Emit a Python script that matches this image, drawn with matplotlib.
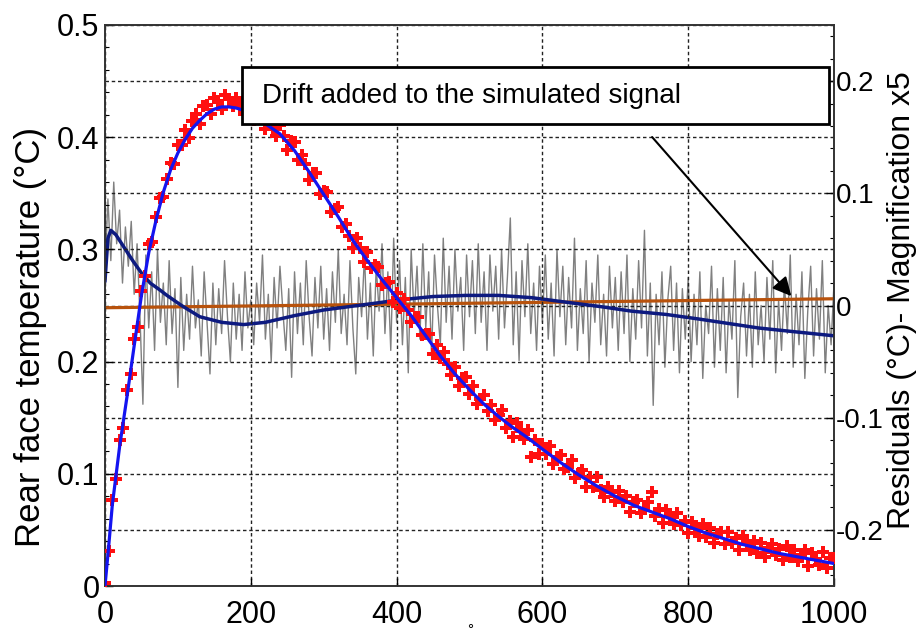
import matplotlib
matplotlib.use("Agg")
import matplotlib.pyplot as plt
from matplotlib.patches import Rectangle
from matplotlib.ticker import MultipleLocator

plt.rcParams['font.family'] = ['Liberation Sans', 'DejaVu Sans']

# fitted rear face temperature (left axis)
fit_x = [0, 5, 10, 20, 30, 40, 50, 60, 70, 80, 90, 100, 110, 120, 130, 140, 150, 160, 170, 180,
         190, 200, 220, 240, 260, 280, 300, 320, 340, 360, 380, 400, 420, 440, 460, 480, 500,
         520, 540, 560, 580, 600, 625, 650, 675, 700, 725, 750, 775, 800, 825, 850, 875, 900,
         925, 950, 975, 1000]
fit_t = [0.000, 0.035, 0.072, 0.124, 0.168, 0.214, 0.259, 0.297, 0.326, 0.351, 0.371, 0.386,
         0.398, 0.408, 0.415, 0.421, 0.425, 0.427, 0.427, 0.426, 0.424, 0.421, 0.412, 0.403,
         0.388, 0.369, 0.349, 0.329, 0.308, 0.290, 0.273, 0.257, 0.241, 0.223, 0.205, 0.189,
         0.175, 0.162, 0.151, 0.141, 0.132, 0.122, 0.110, 0.099, 0.089, 0.080, 0.072, 0.066,
         0.060, 0.053, 0.047, 0.042, 0.037, 0.033, 0.029, 0.026, 0.023, 0.020]

# measured (simulated + noise) signal, one value every 5 units
meas_x = list(range(0, 1001, 5))
meas_t = [0.003, 0.031, 0.077, 0.095, 0.130, 0.141, 0.175, 0.189, 0.220, 0.231,
          0.263, 0.276, 0.305, 0.307, 0.329, 0.346, 0.347, 0.363, 0.377, 0.376,
          0.393, 0.393, 0.406, 0.399, 0.414, 0.421, 0.412, 0.428, 0.429, 0.421,
          0.435, 0.432, 0.425, 0.438, 0.434, 0.428, 0.435, 0.428, 0.421, 0.431,
          0.426, 0.415, 0.424, 0.417, 0.407, 0.416, 0.408, 0.401, 0.411, 0.401,
          0.389, 0.397, 0.396, 0.380, 0.384, 0.376, 0.362, 0.368, 0.368, 0.349,
          0.352, 0.351, 0.333, 0.336, 0.338, 0.320, 0.323, 0.312, 0.301, 0.310,
          0.301, 0.289, 0.298, 0.283, 0.286, 0.284, 0.268, 0.270, 0.271, 0.253,
          0.261, 0.248, 0.256, 0.246, 0.235, 0.240, 0.240, 0.224, 0.225, 0.225,
          0.207, 0.215, 0.203, 0.209, 0.198, 0.188, 0.195, 0.178, 0.185, 0.186,
          0.171, 0.178, 0.162, 0.167, 0.170, 0.156, 0.161, 0.148, 0.152, 0.157,
          0.141, 0.147, 0.133, 0.145, 0.138, 0.131, 0.139, 0.115, 0.130, 0.118,
          0.127, 0.118, 0.125, 0.109, 0.115, 0.117, 0.104, 0.106, 0.112, 0.096,
          0.101, 0.103, 0.088, 0.097, 0.088, 0.097, 0.086, 0.079, 0.088, 0.084,
          0.076, 0.085, 0.075, 0.080, 0.066, 0.075, 0.077, 0.065, 0.069, 0.075,
          0.084, 0.062, 0.069, 0.056, 0.068, 0.062, 0.055, 0.065, 0.054, 0.058,
          0.047, 0.057, 0.052, 0.045, 0.055, 0.044, 0.052, 0.038, 0.046, 0.048,
          0.037, 0.048, 0.038, 0.043, 0.032, 0.045, 0.037, 0.032, 0.040, 0.029,
          0.038, 0.026, 0.034, 0.037, 0.028, 0.033, 0.023, 0.036, 0.026, 0.032,
          0.022, 0.028, 0.032, 0.018, 0.029, 0.024, 0.019, 0.030, 0.016, 0.025,
          0.025]

# residuals x5 (right axis), one value every 4 units
res_x = list(range(0, 1001, 4))
res_r = [0.030, 0.095, 0.040, 0.110, 0.055, 0.085, 0.020, 0.070, 0.035, 0.075, 0.010, 0.055, -0.010,
         -0.088, 0.045, -0.020, 0.030, -0.040, 0.050, -0.015, 0.020, -0.035, 0.040, -0.025, 0.015, -0.073,
         0.025, -0.040, 0.010, -0.030, 0.035, -0.020, 0.005, -0.045, 0.030, -0.015, -0.061, 0.020, -0.035,
         0.015, -0.025, 0.040, -0.010, -0.050, 0.020, -0.030, 0.010, -0.040, 0.030, -0.020, 0.005,
         -0.035, 0.020, -0.015, 0.045, -0.030, 0.010, -0.050, 0.025, -0.020, 0.035, -0.005, -0.040, 0.015,
         -0.064, 0.030, -0.025, 0.020, -0.035, 0.040, -0.010, -0.045, 0.025, -0.020, 0.035, -0.030,
         0.015, -0.040, 0.030, -0.015, 0.050, -0.025, 0.010, -0.035, 0.040, -0.020, -0.061, 0.025, -0.010,
         0.045, -0.030, 0.020, -0.045, 0.035, -0.005, 0.055, -0.025, 0.030, -0.040, 0.060, -0.015,
         0.040, -0.035, 0.025, -0.060, 0.050, -0.010, 0.035, -0.030, 0.055, -0.020, 0.030, -0.045, 0.045,
         0.000, -0.035, 0.060, -0.015, 0.035, -0.030, 0.050, -0.005, 0.025, -0.040, 0.045, -0.010,
         0.040, -0.025, 0.055, -0.015, 0.030, -0.040, 0.045, -0.005, 0.035, -0.030, 0.050, -0.020, 0.025,
         0.078, -0.035, 0.030, -0.049, 0.040, -0.010, 0.055, -0.025, 0.020, -0.040, 0.035, -0.015,
         0.045, -0.030, 0.020, -0.045, 0.050, -0.010, 0.035, -0.035, 0.025, -0.020, 0.060, -0.040, 0.015,
         -0.025, 0.040, -0.050, 0.020, -0.015, 0.045, -0.035, 0.010, -0.045, 0.035, -0.020, 0.025,
         -0.040, 0.030, -0.025, 0.045, -0.050, 0.015, -0.030, 0.040, -0.020, 0.067, -0.045, 0.020, -0.089,
         0.010, -0.035, 0.030, -0.055, 0.005, 0.035, -0.040, 0.020, -0.060, 0.015, -0.030, 0.025,
         -0.050, 0.010, -0.035, 0.030, -0.065, 0.000, -0.025, 0.035, -0.055, 0.015, -0.040, 0.025, -0.060,
         0.005, -0.030, 0.040, -0.082, -0.010, 0.020, -0.045, 0.010, -0.055, 0.030, -0.035, 0.000,
         -0.050, 0.025, -0.030, 0.040, -0.060, 0.005, -0.040, 0.020, -0.025, 0.045, -0.055, 0.010, -0.035,
         0.030, -0.065, -0.005, 0.035, -0.045, 0.015, -0.030, 0.040, -0.060, 0.000, -0.035, 0.020]

# smoothed residual (right axis)
smooth_x = [0, 4, 8, 15, 25, 38, 50, 62, 75, 85, 105, 130, 160, 190, 220, 260, 300, 335, 370,
            404, 450, 495, 540, 585, 632, 680, 722, 770, 814, 855, 896, 940, 1000]
smooth_r = [0.022, 0.060, 0.067, 0.063, 0.053, 0.040, 0.029, 0.020, 0.014, 0.009, 0.000, -0.010,
            -0.015, -0.017, -0.015, -0.009, -0.004, -0.001, 0.002, 0.005, 0.008, 0.009, 0.009,
            0.007, 0.003, -0.001, -0.005, -0.008, -0.012, -0.016, -0.020, -0.023, -0.027]

# drift added to the simulated signal (right axis)
drift_x = [0, 250, 500, 750, 1000]
drift_r = [-0.002, 0.000, 0.002, 0.004, 0.006]

left_ticks = [0, 0.1, 0.2, 0.3, 0.4, 0.5]
left_labels = ['0', '0.1', '0.2', '0.3', '0.4', '0.5']
right_ticks = [-0.2, -0.1, 0, 0.1, 0.2]
right_labels = ['-0.2', '-0.1', '0', '0.1', '0.2']
x_ticks = [0, 200, 400, 600, 800, 1000]

fig = plt.figure(figsize=(9.2, 6.39), dpi=100)
ax = fig.add_axes([105 / 920, 53 / 639, 729 / 920, 561 / 639])
ax2 = ax.twinx()

grid_kw = dict(color='#222222', linestyle=(0, (2.5, 2)), linewidth=1.0)

ax2.plot(res_x, res_r, color='#808080', lw=1.0, zorder=1)
ax2.plot(drift_x, drift_r, color='#b8520c', lw=2.3, zorder=3)
ax2.plot(smooth_x, smooth_r, color='#0d1a80', lw=2.5, zorder=4)
ax2.set_ylim(-0.25, 0.25)
ax2.set_yticks(right_ticks)
ax2.set_yticklabels(right_labels)
ax2.yaxis.set_minor_locator(MultipleLocator(0.02))
ax2.grid(True, axis='y', **grid_kw)

ax.set_zorder(ax2.get_zorder() + 1)
ax.patch.set_visible(False)
ax.plot(meas_x, meas_t, linestyle='none', marker='P', ms=8, mew=0, color='#ff1010', zorder=3)
ax.plot(fit_x, fit_t, color='#1414f0', lw=2.3, zorder=4)
ax.set_xlim(0, 1000)
ax.set_ylim(0, 0.5)
ax.set_xticks(x_ticks)
ax.set_yticks(left_ticks)
ax.set_yticklabels(left_labels)
ax.yaxis.set_minor_locator(MultipleLocator(0.02))
ax.grid(True, **grid_kw)

for a in (ax, ax2):
    a.tick_params(which='major', direction='in', length=6, width=1, labelsize=22, pad=4)
    a.tick_params(which='minor', direction='in', length=3, width=0.8)
    for s in a.spines.values():
        s.set_linewidth(1.2)
        s.set_color('#333333')
ax.tick_params(axis='x', pad=10)
ax2.tick_params(axis='y', labelsize=20, pad=1.5)

# axis titles placed as in the original figure
fig.text(31 / 920, 1 - 337 / 639, 'Rear face temperature (°C)', rotation=90,
         fontsize=25, ha='center', va='center')
fig.text(902 / 920, 1 - 300 / 639, 'Residuals (°C)- Magnification x5', rotation=90,
         fontsize=23, ha='center', va='center')

# annotation box with arrow
ax.add_patch(Rectangle((0.188, 0.8235), 0.805, 0.1016, transform=ax.transAxes,
                       facecolor='white', edgecolor='black', lw=2, zorder=10, clip_on=False))
ax.text(0.215, 0.873, 'Drift added to the simulated signal', transform=ax.transAxes,
        fontsize=20, va='center', ha='left', zorder=11)
ax.annotate('', xy=(0.944, 0.513), xytext=(0.748, 0.804), xycoords='axes fraction',
            arrowprops=dict(arrowstyle='-|>', mutation_scale=28, lw=1.5, color='black'),
            zorder=11)

fig.text(470 / 920, 2 / 639, '°', fontsize=11, ha='center', va='bottom')

fig.savefig('out.png', dpi=100)
